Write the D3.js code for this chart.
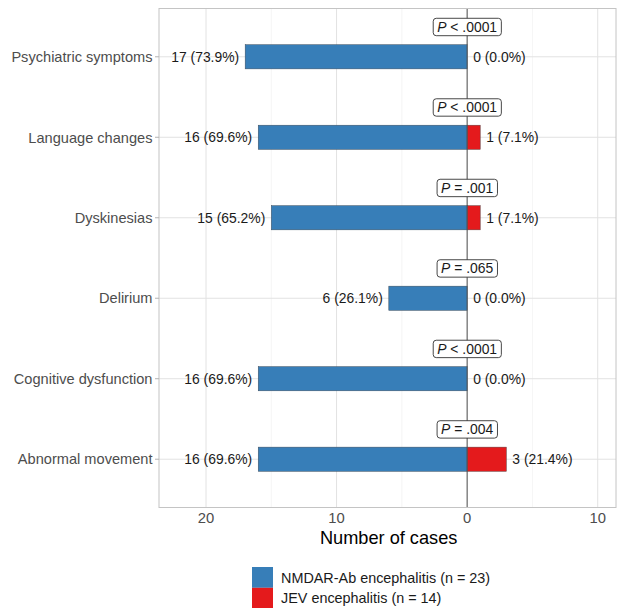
<!DOCTYPE html>
<html>
<head>
<meta charset="utf-8">
<script src="https://cdn.jsdelivr.net/npm/d3@7"></script>
<style>
  html, body { margin: 0; padding: 0; background: #fff; }
  svg { display: block; font-family: "Liberation Sans", Arial, Helvetica, sans-serif; }
</style>
</head>
<body>
<div id="chart"></div>
<script>
// Symptom categories, top to bottom
const categories = [
  "Psychiatric symptoms",
  "Language changes",
  "Dyskinesias",
  "Delirium",
  "Cognitive dysfunction",
  "Abnormal movement"
];
// Case counts per group
const nmdarCases = [17, 16, 15, 6, 16, 16];
const jevCases = [0, 1, 1, 0, 0, 3];
// Percent labels per group
const nmdarPct = ["73.9", "69.6", "65.2", "26.1", "69.6", "69.6"];
const jevPct = ["0.0", "7.1", "7.1", "0.0", "0.0", "21.4"];
// Group comparison p-values
const pOps = ["<", "<", "=", "=", "<", "="];
const pVals = [".0001", ".0001", ".001", ".065", ".0001", ".004"];
// Axis ticks (signed positions; labels show magnitude)
const xTicks = [-20, -10, 0, 10];
const xMinor = [-15, -5, 5];
const legendLabels = ["NMDAR-Ab encephalitis (n = 23)", "JEV encephalitis (n = 14)"];
const colors = ["#377EB8", "#E41A1C"];

const W = 618, H = 608;
const panel = { left: 159, right: 616, top: 8.5, bottom: 507.5 };

const svg = d3.select("#chart").append("svg")
  .attr("width", W).attr("height", H);

const x = d3.scaleLinear().domain([-23.6, 11.4]).range([panel.left, panel.right]);
const y = d3.scalePoint().domain(categories).range([panel.top, panel.bottom]).padding(0.6);
const barH = y.step() * 0.3;

const rows = categories.map((c, i) => ({
  cat: c, a: nmdarCases[i], b: jevCases[i],
  ap: nmdarPct[i], bp: jevPct[i], op: pOps[i], pv: pVals[i]
}));

// Grid
const g = svg.append("g");
g.selectAll(".minor").data(xMinor).join("line")
  .attr("x1", d => x(d)).attr("x2", d => x(d))
  .attr("y1", panel.top).attr("y2", panel.bottom)
  .attr("stroke", "#efefef").attr("stroke-width", 0.6);
g.selectAll(".major").data(xTicks).join("line")
  .attr("x1", d => x(d)).attr("x2", d => x(d))
  .attr("y1", panel.top).attr("y2", panel.bottom)
  .attr("stroke", "#e2e2e2").attr("stroke-width", 1);
g.selectAll(".hgrid").data(categories).join("line")
  .attr("x1", panel.left).attr("x2", panel.right)
  .attr("y1", d => y(d)).attr("y2", d => y(d))
  .attr("stroke", "#e2e2e2").attr("stroke-width", 1);

// Bars
svg.append("g").selectAll("rect").data(rows).join("rect")
  .attr("x", d => x(-d.a)).attr("width", d => x(0) - x(-d.a))
  .attr("y", d => y(d.cat) - barH / 2).attr("height", barH)
  .attr("fill", colors[0]).attr("stroke", "#3a4a5a").attr("stroke-width", 0.5);
svg.append("g").selectAll("rect").data(rows.filter(d => d.b > 0)).join("rect")
  .attr("x", x(0)).attr("width", d => x(d.b) - x(0))
  .attr("y", d => y(d.cat) - barH / 2).attr("height", barH)
  .attr("fill", colors[1]).attr("stroke", "#5a3a3a").attr("stroke-width", 0.5);

// Zero line
svg.append("line")
  .attr("x1", x(0)).attr("x2", x(0))
  .attr("y1", panel.top).attr("y2", panel.bottom)
  .attr("stroke", "#555").attr("stroke-width", 1);

// Panel border
svg.append("rect")
  .attr("x", panel.left).attr("y", panel.top)
  .attr("width", panel.right - panel.left).attr("height", panel.bottom - panel.top)
  .attr("fill", "none").attr("stroke", "#c4c4c4").attr("stroke-width", 1);

// Value labels
const fs = 13.9;
svg.append("g").selectAll("text").data(rows).join("text")
  .attr("x", d => x(-d.a) - 6).attr("y", d => y(d.cat))
  .attr("dy", "0.36em").attr("text-anchor", "end")
  .attr("font-size", fs).attr("fill", "#1a1a1a")
  .text(d => `${d.a} (${d.ap}%)`);
svg.append("g").selectAll("text").data(rows).join("text")
  .attr("x", d => x(d.b) + 6).attr("y", d => y(d.cat))
  .attr("dy", "0.36em").attr("text-anchor", "start")
  .attr("font-size", fs).attr("fill", "#1a1a1a")
  .text(d => `${d.b} (${d.bp}%)`);

// P-value boxes
const pg = svg.append("g").selectAll("g").data(rows).join("g")
  .attr("transform", d => `translate(${x(0)},${y(d.cat) - 29.8})`);
const pt = pg.append("text")
  .attr("text-anchor", "middle").attr("dy", "0.36em")
  .attr("font-size", fs).attr("fill", "#1a1a1a");
pt.append("tspan").attr("font-style", "italic").text("P");
pt.append("tspan").text(d => ` ${d.op} ${d.pv}`);
pg.each(function () {
  const grp = d3.select(this);
  const bb = grp.select("text").node().getBBox();
  grp.insert("rect", "text")
    .attr("x", bb.x - 4).attr("y", -8.7)
    .attr("width", bb.width + 8).attr("height", 17.4)
    .attr("rx", 3).attr("ry", 3)
    .attr("fill", "#fff").attr("stroke", "#333").attr("stroke-width", 0.9);
});

// Y axis
const ya = svg.append("g");
ya.selectAll("line").data(categories).join("line")
  .attr("x1", panel.left - 4).attr("x2", panel.left)
  .attr("y1", d => y(d)).attr("y2", d => y(d))
  .attr("stroke", "#b3b3b3");
ya.selectAll("text").data(categories).join("text")
  .attr("x", panel.left - 6.5).attr("y", d => y(d)).attr("dy", "0.36em")
  .attr("text-anchor", "end").attr("font-size", 14.6).attr("fill", "#4d4d4d")
  .text(d => d);

// X axis
const xa = svg.append("g");
xa.selectAll("text").data(xTicks).join("text")
  .attr("x", d => x(d)).attr("y", 518).attr("dy", "0.36em")
  .attr("text-anchor", "middle").attr("font-size", 14.8).attr("fill", "#4d4d4d")
  .text(d => Math.abs(d));
svg.append("text")
  .attr("x", x(0) - 78.5).attr("y", 537).attr("dy", "0.36em")
  .attr("text-anchor", "middle").attr("font-size", 18.2).attr("fill", "#000")
  .text("Number of cases");

// Legend
const lg = svg.append("g").attr("transform", "translate(252,567)");
const li = lg.selectAll("g").data(legendLabels).join("g")
  .attr("transform", (d, i) => `translate(0,${i * 20.8})`);
li.append("rect").attr("width", 21).attr("height", 20.8)
  .attr("fill", (d, i) => colors[i]);
li.append("text").attr("x", 29).attr("y", 10.4).attr("dy", "0.36em")
  .attr("font-size", 14.4).attr("fill", "#1a1a1a").text(d => d);
</script>
</body>
</html>
